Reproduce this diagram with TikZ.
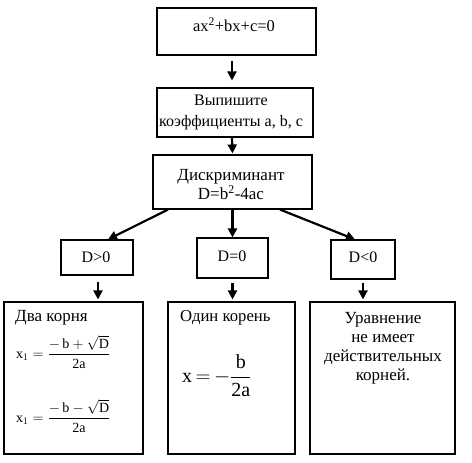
\documentclass[tikz,border=0pt]{standalone}
\usepackage{amsmath}
\usepackage{fontspec}
\setmainfont{Liberation Serif}
\usetikzlibrary{arrows.meta}
\begin{document}
\begin{tikzpicture}[x=1pt,y=-1pt]
\tikzset{
  boxn/.style={draw=black, line width=1.1pt, inner sep=0pt},
  arr/.style={line width=2.2pt, -{Triangle[length=9pt,width=9pt]}},
  txt/.style={inner sep=0pt, font=\fontsize{17}{19}\selectfont, align=center},
  ftxt/.style={inner sep=0pt, font=\fontsize{14}{16}\selectfont},
}
\fill[white] (0,0) rectangle (472,463);
\useasboundingbox (0,0) rectangle (472,463);

% boxes
\node[boxn, minimum width=159, minimum height=47] (b1) at (236.5,31.5) {};
\node[boxn, minimum width=156, minimum height=49] (b2) at (235,112.5) {};
\node[boxn, minimum width=159, minimum height=54] (b3) at (232.5,182) {};
\node[boxn, minimum width=72, minimum height=35] (d1) at (97,257.5) {};
\node[boxn, minimum width=71, minimum height=40] (d2) at (232.5,258) {};
\node[boxn, minimum width=64, minimum height=39] (d3) at (363,259.5) {};
\node[boxn, minimum width=139, minimum height=152] (ra) at (73.5,378) {};
\node[boxn, minimum width=127, minimum height=152] (rb) at (231.5,378) {};
\node[boxn, minimum width=145, minimum height=152] (rc) at (382.5,378) {};

% texts
\node[txt, font=\fontsize{16.5}{19}\selectfont] (t1) at (234,25) {ax\textsuperscript{2}+bx+c=0};
\node[txt, font=\fontsize{16}{21}\selectfont] (t2) at (231,112.5) {Выпишите\\коэффициенты a, b, c};
\node[txt] (t3) at (231,184.5) {Дискриминант\\D=b\textsuperscript{2}-4ac};
\node[txt, font=\fontsize{16}{19}\selectfont] (td1) at (96,257) {D>0};
\node[txt, font=\fontsize{16}{19}\selectfont] (td2) at (232,256) {D=0};
\node[txt, font=\fontsize{16}{19}\selectfont] (td3) at (363,257) {D<0};
\node[txt, anchor=west] (ta) at (15,318) {Два корня};
\node[ftxt, anchor=west] (fa1) at (16,352) {$\text{x}_1 = \dfrac{-\,\text{b}+\sqrt{\text{D}}}{\text{2a}}$};
\node[ftxt, anchor=west] (fa2) at (16,416) {$\text{x}_1 = \dfrac{-\,\text{b}-\sqrt{\text{D}}}{\text{2a}}$};
\node[txt, font=\fontsize{16.7}{19}\selectfont, anchor=west] (tb) at (180,318) {Один корень};
\node[inner sep=0pt, font=\fontsize{20}{22}\selectfont, anchor=west] (fb) at (182,376) {$\text{x}\,{=}\,{-}\dfrac{\text{b}}{\text{2a}}$};
\node[txt] (tc) at (383,348) {Уравнение\\не имеет\\действительных\\корней.};

% arrows
\draw[arr, shorten <=5pt, shorten >=7pt] ([xshift=-4.5pt]b1.south) -- ([xshift=-3pt]b2.north);
\draw[arr, shorten >=1pt] ([xshift=-3pt]b2.south) -- (b3.north);
\draw[arr] ([xshift=-64.5pt]b3.south) -- ([xshift=11pt]d1.north);
\draw[arr] (b3.south) -- (d2.north);
\draw[arr] ([xshift=47.5pt]b3.south) -- ([xshift=-8pt]d3.north);
\draw[arr, shorten <=6pt, shorten >=2pt] ([xshift=1pt]d1.south) -- ([xshift=1pt]d1.south |- ra.north);
\draw[arr, shorten <=4pt, shorten >=2pt] (d2.south) -- (d2.south |- rb.north);
\draw[arr, shorten <=3pt, shorten >=2pt] (d3.south) -- (d3.south |- rc.north);
\end{tikzpicture}
\end{document}
